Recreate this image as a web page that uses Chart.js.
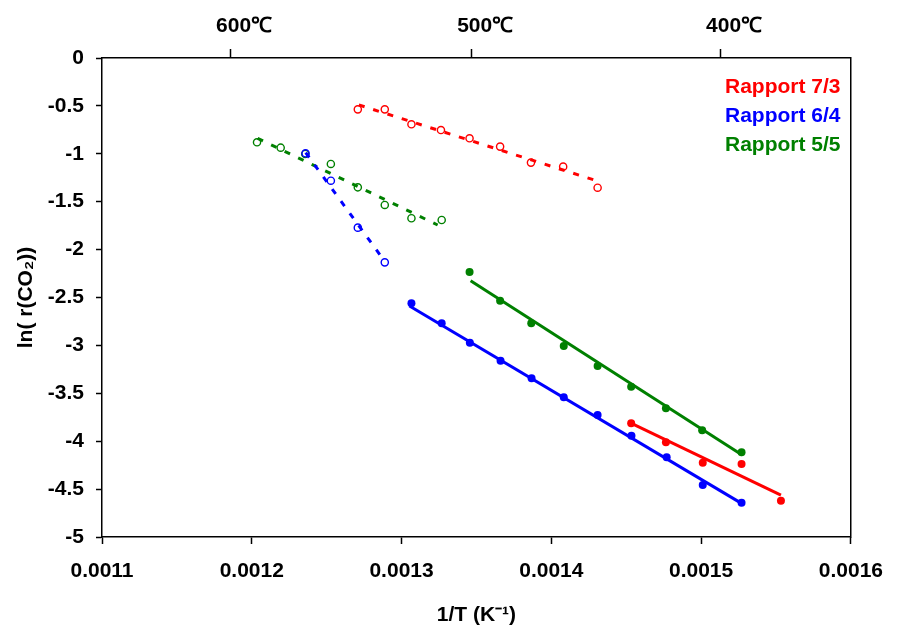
<!DOCTYPE html>
<html>
<head>
<meta charset="utf-8">
<title>ln(r(CO2)) vs 1/T</title>
<script src="https://cdn.jsdelivr.net/npm/chart.js@4.4.1/dist/chart.umd.min.js"></script>
<style>
    html, body { margin: 0; padding: 0; background: #fff; }
    canvas { display: block; }
</style>
</head>
<body>
<canvas id="arrhenius" width="898" height="628"></canvas>
<script>
// Axis ticks
const xTicks = [0.0011, 0.0012, 0.0013, 0.0014, 0.0015, 0.0016];
const xTickLabels = ['0.0011', '0.0012', '0.0013', '0.0014', '0.0015', '0.0016'];
const topTicks = [0.0011855, 0.0013465, 0.0015127];
const topTickLabels = ['600\u2103', '500\u2103', '400\u2103'];

// Legend
const seriesNames = ['Rapport 7/3', 'Rapport 6/4', 'Rapport 5/5'];

// Rapport 7/3 - open circles (high T) and filled (low T)
const red73OpenX = [0.0012708, 0.0012888, 0.0013066, 0.0013263, 0.0013454, 0.0013658, 0.0013864, 0.0014079, 0.0014309];
const red73OpenY = [-0.536, -0.536, -0.692, -0.752, -0.838, -0.925, -1.092, -1.134, -1.354];
const red73FitOpenX = [0.0012715, 0.0014294];
const red73FitOpenY = [-0.49, -1.277];
const red73FilledX = [0.0014533, 0.0014765, 0.0015011, 0.0015270, 0.0015533];
const red73FilledY = [-3.813, -4.011, -4.224, -4.238, -4.621];
const red73FitFilledX = [0.0014535, 0.0015533];
const red73FitFilledY = [-3.813, -4.562];

// Rapport 6/4
const blue64OpenX = [0.0012359, 0.0012528, 0.0012708, 0.0012888];
const blue64OpenY = [-0.995, -1.281, -1.771, -2.133];
const blue64FitOpenX = [0.0012360, 0.0012873];
const blue64FitOpenY = [-0.988, -2.091];
const blue64FilledX = [0.0013066, 0.0013268, 0.0013456, 0.0013661, 0.0013868, 0.0014083, 0.0014309, 0.0014535, 0.0014770, 0.0015011, 0.0015270];
const blue64FilledY = [-2.561, -2.770, -2.972, -3.160, -3.344, -3.542, -3.727, -3.943, -4.168, -4.457, -4.642];
const blue64FitFilledX = [0.0013053, 0.0015270];
const blue64FitFilledY = [-2.589, -4.649];

// Rapport 5/5
const green55OpenX = [0.0012035, 0.0012193, 0.0012357, 0.0012528, 0.0012708, 0.0012888, 0.0013066, 0.0013268];
const green55OpenY = [-0.880, -0.936, -1.002, -1.106, -1.350, -1.534, -1.673, -1.691];
const green55FitOpenX = [0.0012039, 0.0013241];
const green55FitOpenY = [-0.838, -1.743];
const green55FilledX = [0.0013454, 0.0013658, 0.0013866, 0.0014083, 0.0014309, 0.0014533, 0.0014765, 0.0015007, 0.0015270];
const green55FilledY = [-2.234, -2.533, -2.769, -3.006, -3.215, -3.431, -3.657, -3.886, -4.116];
const green55FitFilledX = [0.0013461, 0.0015274];
const green55FitFilledY = [-2.325, -4.144];

const colors = {
    red: '#ff0000',
    blue: '#0000ff',
    green: '#008000',
    black: '#000000'
};

const boldFont = { family: "'Liberation Sans', Arial, sans-serif", size: 21, weight: 'bold' };

function toPoints(xs, ys) {
    return xs.map((x, i) => ({ x: x, y: ys[i] }));
}

function openSeries(xs, ys, color) {
    return {
        data: toPoints(xs, ys),
        showLine: false,
        pointStyle: 'circle',
        pointRadius: 3.6,
        pointBorderWidth: 1.4,
        pointBorderColor: color,
        pointBackgroundColor: 'rgba(0,0,0,0)'
    };
}

function filledSeries(xs, ys, color) {
    return {
        data: toPoints(xs, ys),
        showLine: false,
        pointStyle: 'circle',
        pointRadius: 4,
        pointBorderWidth: 0,
        pointBorderColor: color,
        pointBackgroundColor: color
    };
}

function fitLine(xs, ys, color, dashed) {
    return {
        data: toPoints(xs, ys),
        showLine: true,
        pointRadius: 0,
        borderColor: color,
        borderWidth: 3,
        borderDash: dashed ? [6, 9] : [],
        fill: false
    };
}

// Text legend in the upper right corner, no colour boxes
const textLegend = {
    id: 'textLegend',
    afterDraw(chart) {
        const ctx = chart.ctx;
        const legendColors = [colors.red, colors.blue, colors.green];
        ctx.save();
        ctx.font = `bold ${boldFont.size}px ${boldFont.family}`;
        ctx.textBaseline = 'middle';
        ctx.textAlign = 'left';
        seriesNames.forEach((name, i) => {
            ctx.fillStyle = legendColors[i];
            ctx.fillText(name, 725, 87 + i * 29);
        });
        ctx.restore();
    }
};

const axisLine = { color: colors.black, width: 1.5 };

new Chart(document.getElementById('arrhenius'), {
    type: 'scatter',
    data: {
        datasets: [
            fitLine(red73FitOpenX, red73FitOpenY, colors.red, true),
            fitLine(blue64FitOpenX, blue64FitOpenY, colors.blue, true),
            fitLine(green55FitOpenX, green55FitOpenY, colors.green, true),
            fitLine(red73FitFilledX, red73FitFilledY, colors.red, false),
            fitLine(blue64FitFilledX, blue64FitFilledY, colors.blue, false),
            fitLine(green55FitFilledX, green55FitFilledY, colors.green, false),
            openSeries(red73OpenX, red73OpenY, colors.red),
            openSeries(blue64OpenX, blue64OpenY, colors.blue),
            openSeries(green55OpenX, green55OpenY, colors.green),
            filledSeries(red73FilledX, red73FilledY, colors.red),
            filledSeries(blue64FilledX, blue64FilledY, colors.blue),
            filledSeries(green55FilledX, green55FilledY, colors.green)
        ]
    },
    options: {
        responsive: false,
        animation: false,
        layout: { padding: 0 },
        plugins: {
            legend: { display: false },
            tooltip: { enabled: false }
        },
        scales: {
            x: {
                type: 'linear',
                position: 'bottom',
                min: 0.0011,
                max: 0.0016,
                afterBuildTicks: (scale) => { scale.ticks = xTicks.map(v => ({ value: v })); },
                afterFit: (scale) => { scale.height = 91; },
                ticks: {
                    autoSkip: false,
                    maxRotation: 0,
                    padding: 15,
                    color: colors.black,
                    font: boldFont,
                    callback: (value, i) => xTickLabels[i]
                },
                grid: { drawOnChartArea: false, drawTicks: true, tickLength: 7, tickWidth: 1.5, color: colors.black },
                border: axisLine,
                title: {
                    display: true,
                    text: '1/T (K\u207B\u00B9)',
                    color: colors.black,
                    font: boldFont,
                    padding: { top: 0, bottom: 0 }
                }
            },
            xTop: {
                type: 'linear',
                position: 'top',
                min: 0.0011,
                max: 0.0016,
                afterBuildTicks: (scale) => { scale.ticks = topTicks.map(v => ({ value: v })); },
                afterFit: (scale) => { scale.height = 58; },
                ticks: {
                    autoSkip: false,
                    maxRotation: 0,
                    padding: 10,
                    labelOffset: 14,
                    color: colors.black,
                    font: boldFont,
                    callback: (value, i) => topTickLabels[i]
                },
                grid: { drawOnChartArea: false, drawTicks: true, tickLength: 9, tickWidth: 1.5, color: colors.black },
                border: axisLine
            },
            y: {
                type: 'linear',
                position: 'left',
                min: -5,
                max: 0,
                afterFit: (scale) => { scale.width = 102; },
                ticks: {
                    stepSize: 0.5,
                    padding: 12,
                    color: colors.black,
                    font: boldFont,
                    callback: (value) => String(value)
                },
                grid: { drawOnChartArea: false, drawTicks: true, tickLength: 6, tickWidth: 1.5, color: colors.black },
                border: axisLine,
                title: {
                    display: true,
                    text: 'ln( r(CO\u2082))',
                    color: colors.black,
                    font: boldFont,
                    padding: { top: 14, bottom: 0 }
                }
            },
            yRight: {
                type: 'linear',
                position: 'right',
                min: -5,
                max: 0,
                afterFit: (scale) => { scale.width = 36; },
                ticks: { display: false },
                grid: { drawOnChartArea: false, drawTicks: false },
                border: axisLine
            }
        }
    },
    plugins: [textLegend]
});
</script>
</body>
</html>
